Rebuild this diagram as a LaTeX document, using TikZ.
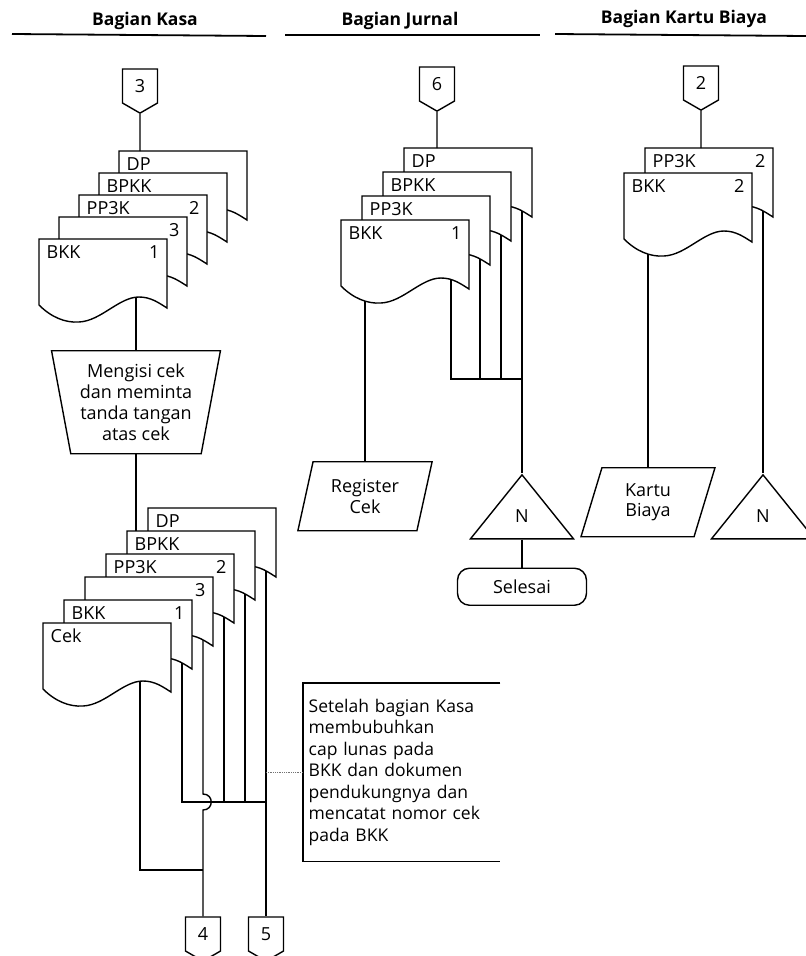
\documentclass[tikz,border=0pt]{standalone}
\usepackage{fontspec}
\setmainfont{Open Sans}
\usetikzlibrary{shapes.geometric,shapes.symbols,positioning,calc}
\newcommand\chartfont{\fontsize{18}{20.7}\selectfont}
\tikzset{
  flow/.style={line width=1.4pt, line join=miter},
  lane/.style={font=\bfseries\fontsize{17.5}{20}\selectfont},
  laneline/.style={line width=1.8pt},
  docbody/.style={draw, fill=white, line width=1.4pt},
  doclbl/.style={inner sep=0pt, font=\chartfont},
  offpage/.style={
    signal, signal to=south, signal pointer angle=120, draw, fill=white,
    minimum width=35pt, minimum height=37pt, inner sep=0pt, font=\chartfont
  },
  manual/.style={
    trapezium, shape border rotate=180, trapezium left angle=78,
    trapezium right angle=78, trapezium stretches=true, draw,
    minimum width=169pt, minimum height=103pt, align=center, font=\chartfont
  },
  io/.style={
    trapezium, trapezium left angle=75, trapezium right angle=105,
    trapezium stretches=true, draw, minimum width=135pt, minimum height=69pt,
    align=center, font=\chartfont
  },
  nfile/.style={
    isosceles triangle, isosceles triangle stretches, shape border rotate=90,
    draw, minimum width=103pt, minimum height=64pt, inner sep=0pt, font=\chartfont
  },
  term/.style={
    rectangle, rounded corners=12pt, draw, minimum width=129pt,
    minimum height=37pt, font=\chartfont
  },
  note/.style={
    text width=186pt, inner xsep=5pt, inner ysep=0pt, minimum height=177pt,
    align=left, font=\fontsize{17.5}{21.5}\selectfont
  },
  pics/doc/.style 2 args={code={
    \path[docbody] (0,0) -- (128,0) -- (128,69)
      .. controls (120,64) and (112,58) .. (100,58)
      .. controls (80,58) and (62,82) .. (40,83)
      .. controls (26,84) and (12,78) .. (0,66) -- cycle;
    \node[doclbl, anchor=base west] (-lbl) at (7,19) {#1};
    \node[doclbl, anchor=base east] (-num) at (121,19) {#2};
    \coordinate (-nw) at (0,0);
    \coordinate (-low) at (24,81);
    \coordinate (-peak) at (97,58);
    \coordinate (-near) at (110,59.4);
    \coordinate (-tail) at (118,63);
  }},
}

\begin{document}
\begin{tikzpicture}[x=1pt, y=-1pt, flow]
  \clip (0,0) rectangle (806,956);
  \fill[white] (0,0) rectangle (806,956);

  % lanes
  \node[lane] (hkasa) at (145,21) {Bagian Kasa};
  \node[lane] (hjurnal) at (400,21) {Bagian Jurnal};
  \node[lane] (hbiaya) at (684,19) {Bagian Kartu Biaya};
  \draw[laneline] (12,34) -- (266,36);
  \draw[laneline] (285,35) -- (540,35);
  \draw[laneline] (555,34) -- (806,36);

  % Bagian Kasa
  \node[offpage] (c3) at (140,86) {3};
  \pic (k1dp) at (119,151) {doc={DP}{}};
  \pic (k1bp) at (99,173) {doc={BPKK}{}};
  \pic (k1pp) at (79,195) {doc={PP3K}{2}};
  \pic (k1th) at (59,217) {doc={}{3}};
  \pic (k1bk) at (39,239) {doc={BKK}{1}};
  \draw (c3) -- (c3 |- k1dp-nw);
  \node[manual, anchor=north] (isi) at (k1bk-peak |- 0,350)
    {Mengisi cek\\dan meminta\\tanda tangan\\atas cek};
  \draw (k1bk-peak) -- (isi.north);

  \pic (k2dp) at (148,508) {doc={DP}{}};
  \pic (k2bp) at (127,531) {doc={BPKK}{}};
  \pic (k2pp) at (106,554) {doc={PP3K}{2}};
  \pic (k2th) at (85,577) {doc={}{3}};
  \pic (k2bk) at (64,600) {doc={BKK}{1}};
  \pic (k2ck) at (43,623) {doc={Cek}{}};
  \draw (isi.south) -- (isi.south |- k2bp-nw);

  \coordinate (kbus) at (k2dp-tail |- 0,802);
  \coordinate (kjoin) at (k2th-tail |- 0,870);
  \node[offpage] (c4) at (k2th-tail |- 0,934) {4};
  \node[offpage] (c5) at (k2dp-tail |- 0,934) {5};
  \draw (k2bk-tail) |- (kbus);
  \draw (k2pp-tail) -- (k2pp-tail |- kbus);
  \draw (k2bp-tail) -- (k2bp-tail |- kbus);
  \draw (k2dp-tail) -- (c5);
  \draw (k2th-tail) -- ($(k2th-tail |- kbus)+(0,-8)$)
    .. controls +(11,0) and +(11,0) .. ($(k2th-tail |- kbus)+(0,8)$) -- (c4);
  \draw (k2ck-peak) |- (kjoin);

  \node[note, anchor=north west] (memo) at (303,683)
    {Setelah bagian Kasa\\membubuhkan\\cap lunas pada\\BKK dan dokumen\\pendukungnya dan\\mencatat nomor cek\\pada BKK};
  \draw (memo.north east) -- (memo.north west) -- (memo.south west) -- (memo.south east);
  \draw[densely dotted, black!55, line width=0.8pt] (k2dp-tail |- memo.west) -- (memo.west);

  % Bagian Jurnal
  \node[offpage] (c6) at (437,84) {6};
  \pic (jdp) at (404,148) {doc={DP}{}};
  \pic (jbp) at (383,172) {doc={BPKK}{}};
  \pic (jpp) at (362,196) {doc={PP3K}{}};
  \pic (jbk) at (341,220) {doc={BKK}{1}};
  \draw (c6) -- (c6 |- jdp-nw);
  \coordinate (jbus) at (jdp-tail |- 0,379);
  \draw (jbk-near) |- (jbus);
  \draw (jpp-tail) -- (jpp-tail |- jbus);
  \draw (jbp-tail) -- (jbp-tail |- jbus);
  \node[nfile, anchor=apex] (njurnal) at (jdp-tail |- 0,473) {N};
  \draw (jdp-tail) -- (njurnal.apex);
  \node[io, anchor=north] (reg) at (jbk-low |- 0,461) {Register\\Cek};
  \draw (jbk-low) -- (reg.north);
  \node[term, below=28pt of njurnal.south] (selesai) {Selesai};
  \draw (njurnal.south) -- (selesai);

  % Bagian Kartu Biaya
  \node[offpage] (c2) at (701,83) {2};
  \pic (kbpp) at (645,148) {doc={PP3K}{2}};
  \pic (kbbk) at (624,173) {doc={BKK}{2}};
  \draw (c2) -- (c2 |- kbpp-nw);
  \node[io, anchor=north] (kartu) at (kbbk-low |- 0,467) {Kartu\\Biaya};
  \draw (kbbk-low) -- (kartu.north);
  \node[nfile, anchor=apex] (nbiaya) at (kbpp-tail |- 0,473) {N};
  \draw (kbpp-tail) -- (nbiaya.apex);
\end{tikzpicture}
\end{document}
